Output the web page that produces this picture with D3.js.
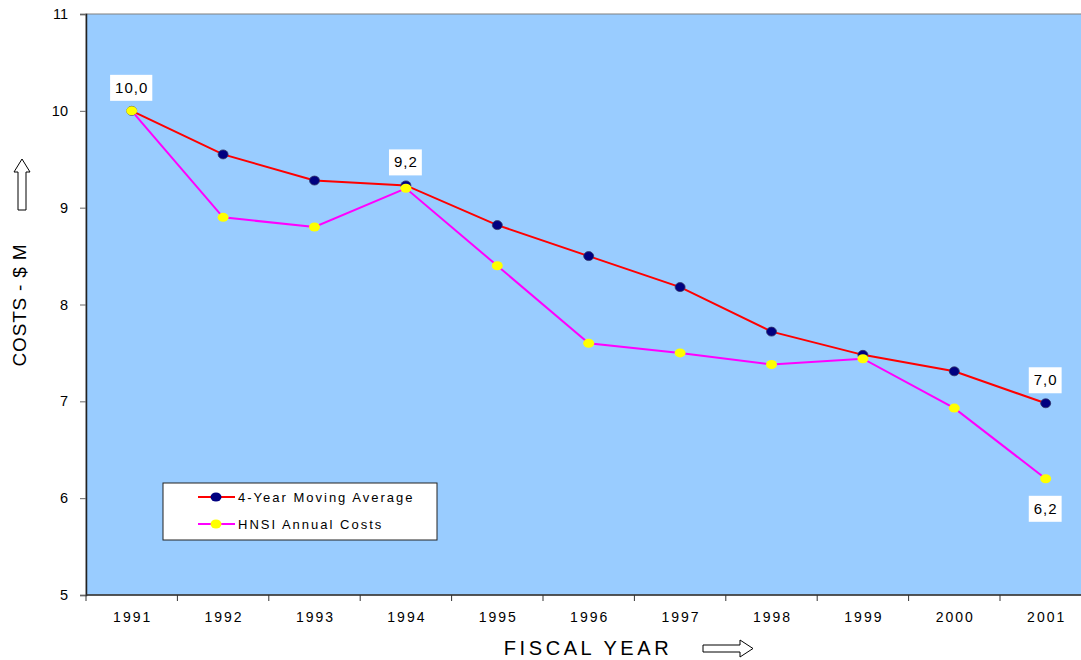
<!DOCTYPE html>
<html>
<head>
<meta charset="utf-8">
<script src="https://cdn.jsdelivr.net/npm/d3@7"></script>
<style>
  body { margin: 0; background: #fff; }
  svg text { font-family: Arial, "Liberation Sans", sans-serif; fill: #000; }
</style>
</head>
<body>
<svg id="chart" width="1081" height="660"></svg>
<script>
// data
const years = ["1991","1992","1993","1994","1995","1996","1997","1998","1999","2000","2001"];
const movingAvg = [10.0, 9.55, 9.28, 9.23, 8.82, 8.50, 8.18, 7.72, 7.48, 7.31, 6.98];
const annualCosts = [10.0, 8.9, 8.8, 9.2, 8.4, 7.6, 7.5, 7.38, 7.44, 6.93, 6.2];
const yTicks = [5, 6, 7, 8, 9, 10, 11];
// point labels: [series, index, text, above?]
const pointLabels = [
  ["annual", 0, "10,0", true],
  ["avg", 3, "9,2", true],
  ["avg", 10, "7,0", true],
  ["annual", 10, "6,2", false]
];

const svg = d3.select("#chart");
const plotLeft = 86, plotTop = 14, plotBottom = 595;
const band = 91.4;
const plotRight = plotLeft + band * years.length;

const x = d3.scaleBand().domain(years).range([plotLeft, plotRight]);
const y = d3.scaleLinear().domain([5, 11]).range([plotBottom, plotTop]);
const cx = d => x(d) + x.bandwidth() / 2;

// plot background
svg.append("rect")
  .attr("x", plotLeft).attr("y", plotTop)
  .attr("width", plotRight - plotLeft).attr("height", plotBottom - plotTop)
  .attr("fill", "#99CCFF")
  .attr("stroke", "#808080").attr("stroke-width", 1);

// y axis
const yAxis = svg.append("g")
  .attr("transform", `translate(${plotLeft},0)`)
  .call(d3.axisLeft(y).tickValues(yTicks).tickSize(6).tickPadding(12).tickFormat(d3.format("d")));
yAxis.select(".domain").attr("stroke", "#222").attr("stroke-width", 1.5);
yAxis.selectAll(".tick line").attr("stroke", "#666");
yAxis.selectAll("text").style("font-size", "14.5px").style("font-family", "Arial, 'Liberation Sans', sans-serif");

// x axis, ticks on band edges
const xAxis = svg.append("g")
  .attr("transform", `translate(0,${plotBottom})`);
xAxis.append("line")
  .attr("x1", plotLeft).attr("x2", plotRight)
  .attr("y1", 0).attr("y2", 0)
  .attr("stroke", "#333").attr("stroke-width", 1.5);
xAxis.selectAll(".edge")
  .data(years)
  .enter().append("line")
  .attr("x1", d => x(d)).attr("x2", d => x(d))
  .attr("y1", 0).attr("y2", 6)
  .attr("stroke", "#333");
xAxis.selectAll(".lbl")
  .data(years)
  .enter().append("text")
  .attr("x", d => cx(d) + 1)
  .attr("y", 27)
  .attr("text-anchor", "middle")
  .style("font-size", "14px")
  .style("letter-spacing", "2px")
  .text(d => d);

// lines
const line = vals => d3.line()
  .x((d, i) => cx(years[i]))
  .y(d => y(d))(vals);

svg.append("path").attr("d", line(movingAvg))
  .attr("fill", "none").attr("stroke", "#FF0000").attr("stroke-width", 2);
svg.append("path").attr("d", line(annualCosts))
  .attr("fill", "none").attr("stroke", "#FF00FF").attr("stroke-width", 2);

svg.selectAll(".avgPt")
  .data(movingAvg)
  .enter().append("ellipse")
  .attr("cx", (d, i) => cx(years[i]))
  .attr("cy", d => y(d))
  .attr("rx", 5).attr("ry", 4.5)
  .attr("fill", "#000080").attr("stroke", "#333366").attr("stroke-width", 0.8);

svg.selectAll(".annPt")
  .data(annualCosts)
  .enter().append("ellipse")
  .attr("cx", (d, i) => cx(years[i]))
  .attr("cy", d => y(d))
  .attr("rx", 5.5).attr("ry", 4.5)
  .attr("fill", "#FFFF00");

// value labels in white boxes
pointLabels.forEach(([s, i, t, above]) => {
  const v = s === "avg" ? movingAvg[i] : annualCosts[i];
  const px = cx(years[i]);
  const py = y(v) + (above ? -23 : 30);
  const g = svg.append("g");
  const txt = g.append("text")
    .attr("x", px).attr("y", py + 5)
    .attr("text-anchor", "middle")
    .style("font-size", "15px")
    .style("letter-spacing", "1px")
    .text(t);
  const bb = txt.node().getBBox();
  g.insert("rect", "text")
    .attr("x", bb.x - 5).attr("y", py - 13)
    .attr("width", bb.width + 9).attr("height", 26)
    .attr("fill", "#fff");
});

// legend
const lg = svg.append("g");
lg.append("rect")
  .attr("x", 163).attr("y", 483).attr("width", 274).attr("height", 57)
  .attr("fill", "#fff").attr("stroke", "#222").attr("stroke-width", 1);
const legendItems = [
  ["4-Year Moving Average", "#FF0000", "#000080"],
  ["HNSI Annual Costs", "#FF00FF", "#FFFF00"]
];
legendItems.forEach(([name, lc, mc], i) => {
  const ly = 497 + i * 27;
  lg.append("line").attr("x1", 198).attr("x2", 235).attr("y1", ly).attr("y2", ly)
    .attr("stroke", lc).attr("stroke-width", 2);
  lg.append("ellipse").attr("cx", 216).attr("cy", ly).attr("rx", 5.5).attr("ry", 4.5)
    .attr("fill", mc);
  lg.append("text").attr("x", 238).attr("y", ly + 5)
    .style("font-size", "13px").style("letter-spacing", "2px")
    .text(name);
});

// axis titles
svg.append("text")
  .attr("transform", "translate(26,305) rotate(-90)")
  .attr("text-anchor", "middle")
  .style("font-size", "19px")
  .style("letter-spacing", "0.8px")
  .text("COSTS - $ M");

svg.append("text")
  .attr("x", 588).attr("y", 655)
  .attr("text-anchor", "middle")
  .style("font-size", "20px")
  .style("letter-spacing", "3.6px")
  .text("FISCAL YEAR");

// hollow arrows
svg.append("path")
  .attr("d", "M22,159 L30,172 L26,172 L26,210 L18,210 L18,172 L14,172 Z")
  .attr("fill", "#fff").attr("stroke", "#000").attr("stroke-width", 1);
svg.append("path")
  .attr("d", "M703,645 L740,645 L740,640 L753,648.5 L740,657 L740,652 L703,652 Z")
  .attr("fill", "#fff").attr("stroke", "#000").attr("stroke-width", 1);
</script>
</body>
</html>
